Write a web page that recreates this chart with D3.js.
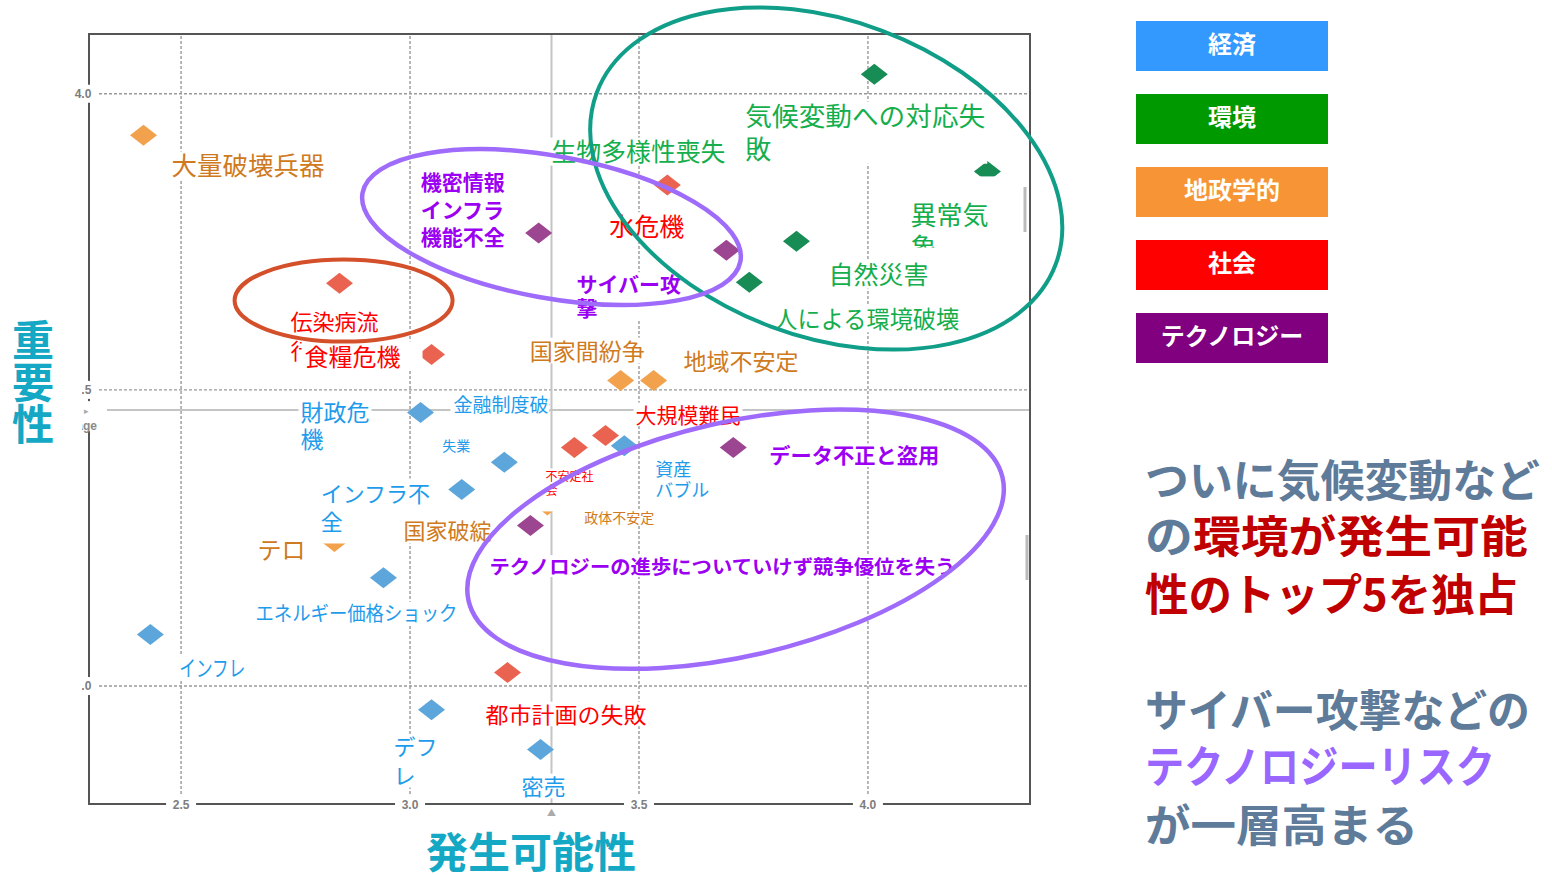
<!DOCTYPE html>
<html>
<head>
<meta charset="utf-8">
<script src="https://cdn.jsdelivr.net/npm/d3@7"></script>
<style>
  body { margin: 0; background: #fff; }
  svg { display: block; font-family: "Noto Sans CJK JP", "Noto Sans", sans-serif; }
</style>
</head>
<body>
<svg id="chart" width="1552" height="875"></svg>
<script>
// ---- data -------------------------------------------------------------
const categories = ["経済", "環境", "地政学的", "社会", "テクノロジー"];

const riskNames = [
  "大量破壊兵器", "気候変動への対応失敗", "異常気象", "自然災害", "人による環境破壊",
  "水危機", "機密情報インフラ機能不全", "サイバー攻撃", "伝染病流行", "食糧危機",
  "国家間紛争", "地域不安定", "財政危機", "大規模難民", "不安定社会",
  "資産バブル", "データ不正と盗用", "失業", "インフラ不全",
  "テクノロジーの進歩についていけず競争優位を失う", "政体不安定", "テロ",
  "エネルギー価格ショック", "インフレ", "都市計画の失敗", "デフレ", "密売"
];
const riskCategory = [
  "地政学的", "環境", "環境", "環境", "環境",
  "社会", "テクノロジー", "テクノロジー", "社会", "社会",
  "地政学的", "地政学的", "経済", "社会", "社会",
  "経済", "テクノロジー", "経済", "経済",
  "テクノロジー", "地政学的", "地政学的",
  "経済", "経済", "社会", "経済", "経済"
];
// 発生可能性 (likelihood)
const likelihood = [
  2.419, 4.015, 4.262, 3.845, 3.742,
  3.563, 3.282, 3.692, 2.847, 3.048,
  3.461, 3.533, 3.024, 3.428, 3.360,
  3.469, 3.707, 3.207, 3.114,
  3.264, 3.301, 2.836,
  2.943, 2.434, 3.214, 3.048, 3.286
];
// 重要性 (impact)
const impact = [
  3.929, 4.032, 3.868, 3.750, 3.681,
  3.845, 3.764, 3.735, 3.679, 3.559,
  3.515, 3.515, 3.461, 3.422, 3.402,
  3.405, 3.402, 3.377, 3.331,
  3.270, 3.305, 3.243,
  3.182, 3.086, 3.022, 2.959, 2.892
];
// risks named on the chart whose markers sit under other labels
const hiddenRiskNames = ["生物多様性喪失", "金融制度破綻", "国家破綻"];
const hiddenRiskCategory = ["環境", "経済", "地政学的"];

const xTicks = [2.5, 3.0, 3.5, 4.0];
const yTicks = [3.0, 3.5, 4.0];
const avgLikelihood = 3.31;
const avgImpact = 3.465;

// ---- styling ----------------------------------------------------------
const legendColors = ["#3399FF", "#009900", "#F79536", "#FF0000", "#800080"];
const markColors   = ["#5DA6DC", "#178D55", "#F2A24D", "#EA6350", "#9C4590"];
const labelColors  = ["#1E9CEB", "#14AE4C", "#CF7A20", "#FF0000", "#9B00F2"];
const catIndex = c => categories.indexOf(c);

// label placement: offset from the marker (px), font size, line height, wrapped lines
const labelLayout = {
  "大量破壊兵器": { dx: 28, dy: 40, size: 25, len: 153 },
  "気候変動への対応失敗": { dx: -129, dy: 52, size: 26, lh: 33, lines: ["気候変動への対応失", "敗"], len: 240 },
  "異常気象": { dx: -77, dy: 54, size: 26, lh: 32, lines: ["異常気", "象"], box: [-6, -49, 112, 22] },
  "自然災害": { dx: 32, dy: 43, size: 25 },
  "人による環境破壊": { dx: 25, dy: 46, size: 24, len: 185 },
  "水危機": { dx: -58, dy: 51, size: 25 },
  "機密情報インフラ機能不全": { dx: -118, dy: -43, size: 21, lh: 27.5, lines: ["機密情報", "インフラ", "機能不全"] },
  "サイバー攻撃": { dx: -150, dy: 42, size: 21, lh: 24, lines: ["サイバー攻", "撃"] },
  "伝染病流行": { dx: -49, dy: 47, size: 22, lh: 29, lines: ["伝染病流", "行"] },
  "食糧危機": { dx: -127, dy: 12, size: 24, box: [-3, -25, 118, 3] },
  "国家間紛争": { dx: -91, dy: -21, size: 23 },
  "地域不安定": { dx: 30, dy: -11, size: 23 },
  "財政危機": { dx: -120, dy: 9, size: 23, lh: 27, lines: ["財政危", "機"] },
  "大規模難民": { dx: 30, dy: -13, size: 21 },
  "不安定社会": { dx: -29, dy: 34, size: 12, lh: 14, lines: ["不安定社", "会"], box: [-16, -13, 52, 30] },
  "資産バブル": { dx: 31, dy: 30, size: 18, lh: 21, lines: ["資産", "バブル"] },
  "データ不正と盗用": { dx: 36, dy: 16, size: 21, len: 170 },
  "失業": { dx: -62, dy: -11, size: 14 },
  "インフラ不全": { dx: -141, dy: 13, size: 22, lh: 28, lines: ["インフラ不", "全"], box: [-4, -24, 112, 41] },
  "テクノロジーの進歩についていけず競争優位を失う": { dx: -41, dy: 48, size: 19.5, len: 466 },
  "政体不安定": { dx: 37, dy: 18, size: 14 },
  "テロ": { dx: -77, dy: 17, size: 24 },
  "エネルギー価格ショック": { dx: -128, dy: 43, size: 20, len: 202 },
  "インフレ": { dx: 29, dy: 41, size: 22, len: 66 },
  "都市計画の失敗": { dx: -22, dy: 50, size: 22, len: 161 },
  "デフレ": { dx: -38, dy: 45, size: 22, lh: 29, lines: ["デフ", "レ"] },
  "密売": { dx: -19, dy: 45, size: 22 },
  // labels without a visible marker, anchored in data units
  "生物多様性喪失": { at: [3.310, 3.885], size: 25, len: 174 },
  "金融制度破綻": { at: [3.096, 3.461], size: 19, box: [-3, -19, 96, 4] },
  "国家破綻": { at: [2.987, 3.247], size: 22 }
};

// highlight ellipses (centre in data units, radii in px, rotation in degrees)
const highlightRings = [
  { c: [3.910, 3.856], rx: 245, ry: 158, rot: 20.5, color: "#109E88", w: 4 },
  { c: [3.310, 3.774], rx: 192, ry: 71, rot: 10.25, color: "#9F6BFA", w: 4.5 },
  { c: [2.856, 3.650], rx: 109, ry: 41, rot: 0, color: "#D4502B", w: 4 },
  { c: [3.712, 3.247], rx: 274, ry: 117, rot: -13, color: "#9F6BFA", w: 4.5 }
];

// ---- chart ------------------------------------------------------------
const W = 1552, H = 875;
const frame = { left: 89, right: 1030, top: 34, bottom: 804 };
const x = d3.scaleLinear().domain([2.3, 4.355]).range([frame.left, frame.right]);
const y = d3.scaleLinear().domain([2.8, 4.1]).range([frame.bottom, frame.top]);

const svg = d3.select("#chart");
const defs = svg.append("defs");
svg.append("rect").attr("width", W).attr("height", H).attr("fill", "#fff");

// strip left of the frame kept clear for the impact title
defs.append("clipPath").attr("id", "leftStrip").append("path")
  .attr("d", `M-100,0H${W}V${H}H-100Z M-100,300H${frame.left - 7}V700H-100Z`)
  .attr("clip-rule", "evenodd");

// grid lines
const gridStyle = sel => {
  sel.select(".domain").remove();
  sel.selectAll(".tick line").attr("stroke", "#999").attr("stroke-width", 1.4)
     .attr("stroke-dasharray", "3,2");
};
svg.append("g").attr("transform", `translate(0,${frame.bottom})`)
  .call(d3.axisBottom(x).tickValues(xTicks).tickSize(-(frame.bottom - frame.top)).tickFormat(""))
  .call(gridStyle);
svg.append("g").attr("transform", `translate(${frame.left},0)`)
  .call(d3.axisLeft(y).tickValues(yTicks).tickSize(-(frame.right - frame.left)).tickFormat(""))
  .call(gridStyle);

// average lines
svg.append("line").attr("x1", x(avgLikelihood)).attr("x2", x(avgLikelihood))
  .attr("y1", frame.top).attr("y2", frame.bottom).attr("stroke", "#c4c4c4").attr("stroke-width", 2);
svg.append("line").attr("x1", frame.left + 18).attr("x2", frame.right)
  .attr("y1", y(avgImpact)).attr("y2", y(avgImpact)).attr("stroke", "#c4c4c4").attr("stroke-width", 2);
svg.append("text").attr("x", x(avgLikelihood)).attr("y", frame.bottom + 12)
  .attr("text-anchor", "middle").attr("font-size", 9).attr("fill", "#aaa").text("▲");

// frame
svg.append("rect").attr("x", frame.left).attr("y", frame.top)
  .attr("width", frame.right - frame.left).attr("height", frame.bottom - frame.top)
  .attr("fill", "none").attr("stroke", "#555").attr("stroke-width", 2);
svg.append("line").attr("x1", frame.right - 5).attr("x2", frame.right - 5)
  .attr("y1", 187).attr("y2", 232).attr("stroke", "#bbb").attr("stroke-width", 3);
svg.append("line").attr("x1", frame.right - 3).attr("x2", frame.right - 3)
  .attr("y1", 535).attr("y2", 580).attr("stroke", "#bbb").attr("stroke-width", 3);

// markers
const points = riskNames.map((name, i) => ({
  name, cat: riskCategory[i], lx: likelihood[i], ly: impact[i]
}));
const hw = 13.5, hh = 10.5;
svg.append("g").selectAll("path").data(points).join("path")
  .attr("d", d => {
    const cx = x(d.lx), cy = y(d.ly);
    return `M${cx},${cy - hh}L${cx + hw},${cy}L${cx},${cy + hh}L${cx - hw},${cy}Z`;
  })
  .attr("fill", d => markColors[catIndex(d.cat)]);

// labels (white text boxes, as in the source layout)
const gLabels = svg.append("g");
let clipId = 0;
function drawLabel(name, cat, ax, ay) {
  const spec = labelLayout[name];
  const lines = spec.lines || [name];
  const lh = spec.lh || spec.size * 1.2;
  const bold = cat === "テクノロジー";
  const g = gLabels.append("g");
  const bg = g.append("rect").attr("fill", "#fff");
  const t = g.append("text")
    .attr("font-size", spec.size)
    .attr("font-weight", bold ? 700 : 400)
    .attr("fill", labelColors[catIndex(cat)]);
  lines.forEach((ln, i) => {
    const ts = t.append("tspan").attr("x", ax).attr("y", ay + i * lh).text(ln);
    if (i === 0 && spec.len) ts.attr("textLength", spec.len).attr("lengthAdjust", "spacingAndGlyphs");
  });
  let bx, by, bw, bh;
  if (spec.box) {
    bx = ax + spec.box[0]; by = ay + spec.box[1];
    bw = spec.box[2] - spec.box[0]; bh = spec.box[3] - spec.box[1];
    const id = "lc" + (clipId++);
    defs.append("clipPath").attr("id", id).append("rect")
      .attr("x", bx).attr("y", by).attr("width", bw).attr("height", bh);
    t.attr("clip-path", `url(#${id})`);
  } else {
    const bb = t.node().getBBox();
    bx = bb.x - 2; bw = bb.width + 4;
    by = ay - spec.size * 0.95;
    bh = (lines.length - 1) * lh + spec.size * 1.12;
  }
  bg.attr("x", bx).attr("y", by).attr("width", bw).attr("height", bh);
}
points.forEach(d => {
  const s = labelLayout[d.name];
  drawLabel(d.name, d.cat, x(d.lx) + s.dx, y(d.ly) + s.dy);
});
hiddenRiskNames.forEach((name, i) => {
  const s = labelLayout[name];
  drawLabel(name, hiddenRiskCategory[i], x(s.at[0]), y(s.at[1]));
});

// tick labels sitting on the frame
const tickLabelStyle = (sel) => {
  sel.select(".domain").remove();
  sel.selectAll(".tick text")
    .attr("font-family", "Liberation Sans, Arial, sans-serif")
    .attr("font-size", 12).attr("font-weight", 700).attr("fill", "#7d7d7d")
    .attr("text-anchor", "middle").attr("x", 0).attr("y", 0).attr("dy", "0.36em");
  sel.selectAll(".tick").insert("rect", "text")
    .attr("x", -15).attr("y", -9).attr("width", 30).attr("height", 18).attr("fill", "#fff");
};
svg.append("g").attr("transform", `translate(0,${frame.bottom + 1})`)
  .call(d3.axisBottom(x).tickValues(xTicks).tickSize(0).tickFormat(d3.format(".1f")))
  .call(tickLabelStyle);
svg.append("g").attr("clip-path", "url(#leftStrip)")
  .append("g").attr("transform", `translate(${frame.left - 6},0)`)
  .call(d3.axisLeft(y).tickValues(yTicks).tickSize(0).tickFormat(d3.format(".1f")))
  .call(tickLabelStyle);

// average marker on the impact axis
svg.append("rect").attr("x", frame.left - 14).attr("y", y(avgImpact) - 9)
  .attr("width", 22).attr("height", 30).attr("fill", "#fff");
svg.append("text").attr("x", frame.left - 3).attr("y", y(avgImpact) + 4)
  .attr("font-size", 9).attr("fill", "#aaa").attr("text-anchor", "middle").text("▸");
svg.append("text").attr("x", frame.left + 8).attr("y", y(avgImpact) + 20)
  .attr("clip-path", "url(#leftStrip)")
  .attr("font-family", "Liberation Sans, Arial, sans-serif")
  .attr("font-size", 12).attr("font-weight", 700).attr("fill", "#8a8a8a")
  .attr("text-anchor", "end").text("Average");

// highlight rings
svg.append("g").selectAll("ellipse").data(highlightRings).join("ellipse")
  .attr("cx", 0).attr("cy", 0)
  .attr("rx", d => d.rx).attr("ry", d => d.ry)
  .attr("transform", d => `translate(${x(d.c[0])},${y(d.c[1])}) rotate(${d.rot})`)
  .attr("fill", "none").attr("stroke", d => d.color).attr("stroke-width", d => d.w);

// axis titles
const titleColor = "#14A8C4";
svg.append("text").attr("x", 33).attr("y", 319)
  .style("writing-mode", "vertical-rl").style("letter-spacing", "0px")
  .attr("font-size", 42).attr("font-weight", 700)
  .attr("fill", titleColor).text("重要性");
svg.append("text").attr("x", 531).attr("y", 868).attr("font-size", 42).attr("font-weight", 700)
  .attr("fill", titleColor).attr("text-anchor", "middle").text("発生可能性");

// legend
const legend = svg.append("g").selectAll("g").data(categories).join("g")
  .attr("transform", (d, i) => `translate(1136,${21 + i * 73})`);
legend.append("rect").attr("width", 192).attr("height", 50)
  .attr("fill", (d, i) => legendColors[i]);
legend.append("text").attr("x", 96).attr("y", 32).attr("text-anchor", "middle")
  .attr("font-size", 24).attr("font-weight", 700).attr("fill", "#fff").text(d => d);

// commentary
const grayBlue = "#5F7B9A", darkRed = "#C00000", violet = "#9966FF";
const notes = [
  { y: 497, w: 395, parts: [["ついに気候変動など", grayBlue]] },
  { y: 553, w: 383, parts: [["の", grayBlue], ["環境が発生可能", darkRed]] },
  { y: 611, w: 373, parts: [["性のトップ5を独占", darkRed]] },
  { y: 727, w: 385, parts: [["サイバー攻撃などの", grayBlue]] },
  { y: 783, w: 350, parts: [["テクノロジーリスク", violet]] },
  { y: 842, w: 273, parts: [["が一層高まる", grayBlue]] }
];
notes.forEach(n => {
  const t = svg.append("text").attr("x", 1145).attr("y", n.y)
    .attr("font-size", 44).attr("font-weight", 700)
    .attr("textLength", n.w).attr("lengthAdjust", "spacingAndGlyphs");
  n.parts.forEach(p => t.append("tspan").attr("fill", p[1]).text(p[0]));
});
</script>
</body>
</html>
